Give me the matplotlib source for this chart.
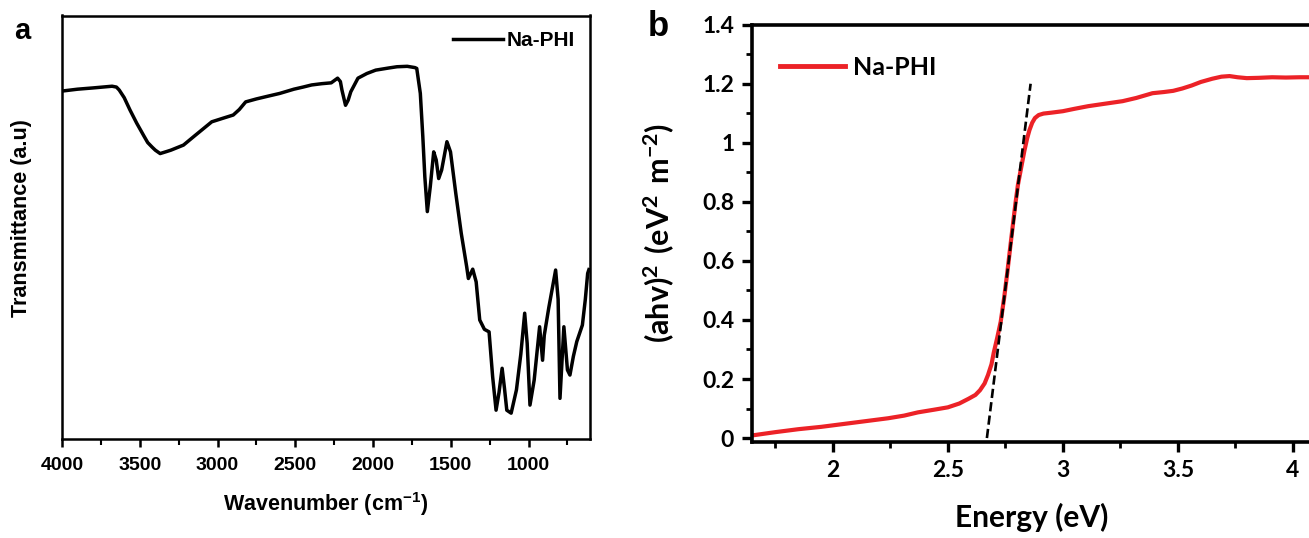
import matplotlib
matplotlib.use('Agg')
import matplotlib.pyplot as plt
from matplotlib.ticker import MultipleLocator, FixedLocator

plt.rcParams['font.weight'] = 'bold'
plt.rcParams['font.family'] = ['Liberation Sans', 'DejaVu Sans']

# ---------------- data: panel a (FTIR) ----------------
wavenumber = [3990, 3900, 3800, 3678, 3650, 3632, 3600, 3563, 3520, 3471, 3449, 3420, 3400,
              3369, 3334, 3300, 3219, 3150,
              3037, 2960, 2899, 2860, 2819, 2750, 2670, 2600, 2509, 2450, 2395, 2330,
              2269, 2228, 2210, 2200, 2177, 2160, 2143, 2120, 2097, 2040, 1983, 1900,
              1846, 1780, 1731, 1719, 1696, 1680, 1667, 1651, 1632, 1610, 1594, 1578,
              1559, 1525, 1502, 1468, 1433, 1398, 1387, 1359, 1337, 1314, 1284, 1254,
              1231, 1209, 1190, 1170, 1155, 1140, 1112, 1078, 1050, 1025, 1009, 991,
              964, 929, 910, 899, 870, 826, 810, 798, 773, 750, 734, 712, 690, 654,
              635, 620, 612]
transmittance = [82.2, 82.6, 82.9, 83.3, 83.1, 82.4, 80.6, 77.7, 74.6, 71.4, 70.0, 68.9, 68.2,
                 67.4, 67.8, 68.2, 69.4, 71.5,
                 74.9, 75.8, 76.5, 77.8, 79.6, 80.3, 81.0, 81.6, 82.6, 83.1, 83.6, 83.9,
                 84.1, 85.2, 84.4, 82.4, 78.8, 80.0, 82.0, 83.6, 85.2, 86.3, 87.1, 87.6,
                 87.9, 88.0, 87.7, 87.5, 81.6, 71.4, 61.9, 53.7, 59.6, 67.8, 65.9, 61.5,
                 63.5, 70.2, 67.8, 58.0, 48.6, 40.7, 37.9, 40.1, 37.1, 28.1, 25.9, 25.3,
                 14.7, 6.8, 11.0, 16.7, 12.0, 6.8, 6.1, 11.6, 20.0, 29.7, 22.6, 8.0,
                 13.9, 26.5, 18.6, 24.5, 31.0, 39.9, 33.0, 9.6, 26.5, 16.3, 15.1, 19.5,
                 23.0, 26.9, 33.0, 39.1, 40.0]
ir_xticks = [4000, 3500, 3000, 2500, 2000, 1500, 1000]
ir_xticklabels = ['4000', '3500', '3000', '2500', '2000', '1500', '1000']

# ---------------- data: panel b (Tauc plot) ----------------
energy = [1.65, 1.75, 1.85, 1.95, 2.0, 2.09, 2.17, 2.24, 2.31, 2.37, 2.44, 2.5, 2.55,
          2.59, 2.62, 2.64, 2.66, 2.675, 2.69, 2.70, 2.715, 2.73, 2.745, 2.758, 2.772,
          2.786, 2.795, 2.805, 2.82, 2.833, 2.845, 2.855, 2.867, 2.879, 2.895, 2.916,
          2.95, 3.0, 3.05, 3.11, 3.18, 3.26, 3.32, 3.39, 3.44, 3.48, 3.52, 3.56, 3.6,
          3.65, 3.69, 3.725, 3.76, 3.8, 3.85, 3.91, 3.97, 4.03, 4.1]
ahv2 = [0.009, 0.02, 0.03, 0.038, 0.043, 0.052, 0.06, 0.067, 0.076, 0.087, 0.096, 0.104,
        0.117, 0.133, 0.146, 0.162, 0.185, 0.214, 0.25, 0.29, 0.34, 0.394, 0.475, 0.556,
        0.65, 0.742, 0.80, 0.858, 0.92, 0.973, 1.015, 1.043, 1.068, 1.084, 1.094, 1.099,
        1.102, 1.107, 1.115, 1.124, 1.132, 1.141, 1.152, 1.168, 1.172, 1.176, 1.184,
        1.194, 1.206, 1.217, 1.224, 1.226, 1.222, 1.219, 1.22, 1.222, 1.221, 1.222, 1.222]
tangent_x = [2.67, 2.86]
tangent_y = [0.0, 1.2]
uv_xticks = [2, 2.5, 3, 3.5, 4]
uv_xticklabels = ['2', '2.5', '3', '3.5', '4']
uv_yticks = [0, 0.2, 0.4, 0.6, 0.8, 1.0, 1.2, 1.4]
uv_yticklabels = ['0', '0.2', '0.4', '0.6', '0.8', '1', '1.2', '1.4']

# ---------------- figure ----------------
W, H = 1309, 538
fig = plt.figure(figsize=(W / 100, H / 100), dpi=100)

FA = 'Liberation Sans'
FB = 'Lato'

# ----- panel a -----
ax1 = fig.add_axes([62 / W, 1 - 439 / H, 528 / W, 423.5 / H])
ax1.plot(wavenumber, transmittance, color='black', lw=2.5, solid_joinstyle='round')
ax1.set_xlim(4000, 605)
ax1.set_ylim(0, 100)
ax1.xaxis.set_major_locator(FixedLocator(ir_xticks))
ax1.set_xticklabels(ir_xticklabels, fontfamily=FA, fontweight='bold', fontsize=14)
ax1.xaxis.set_minor_locator(MultipleLocator(250))
ax1.set_yticks([])
for s in ax1.spines.values():
    s.set_linewidth(1.8)
ax1.tick_params(axis='x', which='major', direction='out', length=6, width=1.8, pad=7)
ax1.tick_params(axis='x', which='minor', direction='out', length=4, width=1.5)
leg1 = ax1.legend(['Na-PHI'], loc='center right', bbox_to_anchor=(0.9716, 0.9405),
                  frameon=False, borderpad=0, borderaxespad=0, handlelength=2.4,
                  handletextpad=0.2, prop={'family': FA, 'weight': 'bold', 'size': 15})
fig.text(326 / W, 1 - 504 / H, r'Wavenumber (cm$\mathregular{^{-1}}$)', ha='center', va='center',
         family=FA, weight='bold', fontsize=15.5)
fig.text(21 / W, 1 - 218 / H, 'Transmittance (a.u)', rotation=90, ha='center', va='center',
         family=FA, weight='bold', fontsize=15.5)
fig.text(22 / W, 1 - 31 / H, 'a', ha='center', va='center', family=FA, weight='bold', fontsize=21)

# ----- panel b -----
ax2 = fig.add_axes([752.3 / W, 1 - 441.6 / H, 563.5 / W, 416.9 / H])
ax2.plot(energy, ahv2, color='#EC2227', lw=3.0)
ax2.plot(tangent_x, tangent_y, color='black', lw=1.9, dashes=(3.5, 1.6))
ax2.set_xlim(1.65, 4.1)
ax2.set_ylim(-0.012, 1.4)
ax2.xaxis.set_major_locator(FixedLocator(uv_xticks))
ax2.set_xticklabels(uv_xticklabels, fontfamily=FB, fontweight='bold', fontsize=16.5)
ax2.yaxis.set_major_locator(FixedLocator(uv_yticks))
ax2.set_yticklabels(uv_yticklabels, fontfamily=FB, fontweight='bold', fontsize=16.5)
ax2.xaxis.set_minor_locator(MultipleLocator(0.25))
ax2.yaxis.set_minor_locator(MultipleLocator(0.1))
for s in ax2.spines.values():
    s.set_linewidth(2.6)
ax2.tick_params(which='major', direction='out', length=7, width=2.4, pad=6)
ax2.tick_params(which='minor', direction='out', length=4.5, width=2.0)
leg2 = ax2.legend(['Na-PHI'], loc='center left', bbox_to_anchor=(0.05, 0.897),
                  frameon=False, borderpad=0, borderaxespad=0, handlelength=2.6,
                  handletextpad=0.32, prop={'family': FB, 'weight': 'bold', 'size': 18})
leg2.get_lines()[0].set_linewidth(3.5)
fig.text(1032 / W, 1 - 517 / H, 'Energy (eV)', ha='center', va='center',
         family=FB, weight='bold', fontsize=21.5)
fig.text(659 / W, 1 - 233 / H, r'$\mathregular{(ahv)^2\ (eV^2\ m^{-2})}$', rotation=90,
         ha='center', va='center', family=FB, weight='bold', fontsize=22)
fig.text(658 / W, 1 - 27 / H, 'b', ha='center', va='center', family=FA, weight='bold', fontsize=25)

fig.savefig('out.png', dpi=100)
